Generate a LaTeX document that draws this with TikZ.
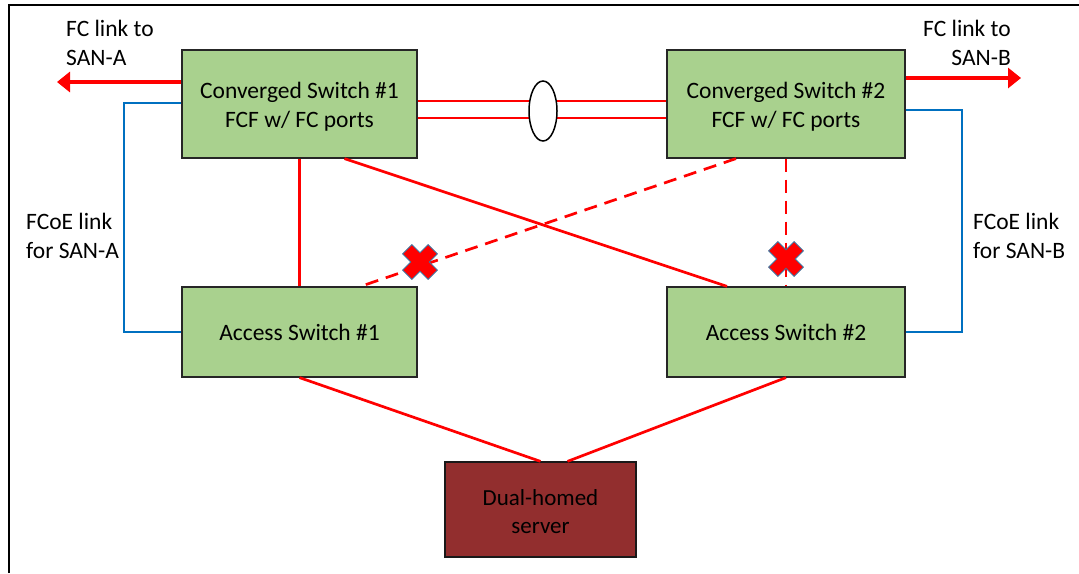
\documentclass[tikz,border=0pt]{standalone}
\usepackage{fontspec}
\setmainfont{Carlito}
\usetikzlibrary{arrows.meta,shapes.geometric,calc}

\definecolor{swgreen}{HTML}{A9D18E}
\definecolor{srvred}{HTML}{922E2E}
\definecolor{fcoeblue}{HTML}{0070C0}
\definecolor{fcred}{HTML}{FF0000}
\definecolor{xedge}{HTML}{41719C}

\tikzset{
  lbl/.style={inner sep=0pt, font=\fontsize{23.5}{29}\selectfont},
  switchbox/.style={rectangle, draw=black!85, line width=1.2pt, fill=swgreen, inner sep=0pt},
  serverbox/.style={rectangle, draw=black!90, line width=1.2pt, fill=srvred, inner sep=0pt},
  boxtext/.style={lbl, align=center},
  ethlink/.style={draw=fcred, line width=2.7pt},
  downlink/.style={ethlink, dash pattern=on 13pt off 8pt},
  fcoelink/.style={draw=fcoeblue, line width=2.7pt},
  fcuplink/.style={draw=fcred, line width=4.5pt, -{Triangle[length=13pt,width=20pt]}},
  lagring/.style={ellipse, draw=black, line width=1.5pt, fill=white,
    minimum width=28pt, minimum height=60pt, inner sep=0pt},
  xmark/.style={fill=fcred, draw=xedge, line width=0.9pt},
}

\begin{document}
\begin{tikzpicture}[x=1pt, y=-1pt]
  \useasboundingbox (0,0) rectangle (1079,573);

  % frame
  \draw[line width=1.5pt] (9,573) -- (9,5) -- (1079,5);

  % switches and server
  \node[switchbox, minimum width=235pt, minimum height=108pt] (cs1) at (299.5,104) {};
  \node[switchbox, minimum width=238pt, minimum height=108pt] (cs2) at (786,104) {};
  \node[switchbox, minimum width=235pt, minimum height=90pt] (as1) at (299.5,332) {};
  \node[switchbox, minimum width=238pt, minimum height=90pt] (as2) at (786,332) {};
  \node[serverbox, minimum width=191pt, minimum height=95pt] (srv) at (540.5,509.5) {};

  % box captions
  \node[boxtext] (cs1txt) at ($(cs1.center)+(0,3)$) {Converged Switch \#1\\FCF w/ FC ports};
  \node[boxtext] (cs2txt) at ($(cs2.center)+(0,3)$) {Converged Switch \#2\\FCF w/ FC ports};
  \node[boxtext] (as1txt) at (as1.center) {Access Switch \#1};
  \node[boxtext] (as2txt) at (as2.center) {Access Switch \#2};
  \node[boxtext, font=\fontsize{23}{28}\selectfont] (srvtxt) at ($(srv.center)+(0,2)$)
    {Dual-homed\\server};

  % text labels
  \node[lbl, anchor=west, align=left] (sanAlbl) at (66,42.5) {FC link to\\SAN-A};
  \node[lbl, anchor=east, align=right] (sanBlbl) at (1011,42.5) {FC link to\\SAN-B};
  \node[lbl, anchor=west, align=left] (fcoeAlbl) at (26,235.5) {FCoE link\\for SAN-A};
  \node[lbl, anchor=west, align=left] (fcoeBlbl) at (973,235.5) {FCoE link\\for SAN-B};

  % free ends and bends
  \coordinate (sanA) at (57,82);
  \coordinate (sanB) at (1021,78);
  \coordinate (bendA) at (124,0);
  \coordinate (bendB) at (962,0);
  \coordinate (fcoeA) at ($(cs1.west)+(0,-1)$);
  \coordinate (fcoeB) at ($(cs2.east)+(0,6)$);

  % FC uplinks to the SANs
  \draw[fcuplink] (cs1.west |- sanA) -- (sanA);
  \draw[fcuplink] (cs2.east |- sanB) -- (sanB);

  % FCoE links
  \draw[fcoelink] (fcoeA) -- (fcoeA -| bendA) -- (as1.west -| bendA) -- (as1.west);
  \draw[fcoelink] (fcoeB) -- (fcoeB -| bendB) -- (as2.east -| bendB) -- (as2.east);

  % inter-switch links with the LAG ring
  \draw[ethlink] ($(cs1.east)+(0,-3)$) -- ($(cs2.west)+(0,-3)$);
  \draw[ethlink] ($(cs1.east)+(0,14)$) -- ($(cs2.west)+(0,14)$);
  \node[lagring] (lag) at (543,111) {};

  % uplinks from the access switches
  \draw[ethlink] (cs1.south) -- (as1.north);
  \draw[ethlink] ($(cs1.south)+(45,0)$) -- ($(as2.north)+(-59,0)$);
  \draw[downlink] ($(cs2.south)+(-50,0)$) -- ($(as1.north)+(61,0)$);
  \draw[downlink] (cs2.south) -- (as2.north);

  % server links
  \draw[ethlink] (as1.south) -- (srv.north);
  \draw[ethlink] (as2.south) -- ($(srv.north)+(27,0)$);

  % blocked-link crosses
  \coordinate (x1) at (420,262);
  \coordinate (x2) at (786,259);
  \foreach \c in {x1,x2}{
    \path[xmark, shift={(\c)}, rotate=45]
      (6.5,18) -- (6.5,6.5) -- (18,6.5) -- (18,-6.5) -- (6.5,-6.5) -- (6.5,-18)
      -- (-6.5,-18) -- (-6.5,-6.5) -- (-18,-6.5) -- (-18,6.5) -- (-6.5,6.5) -- (-6.5,18) -- cycle;
  }
\end{tikzpicture}
\end{document}
